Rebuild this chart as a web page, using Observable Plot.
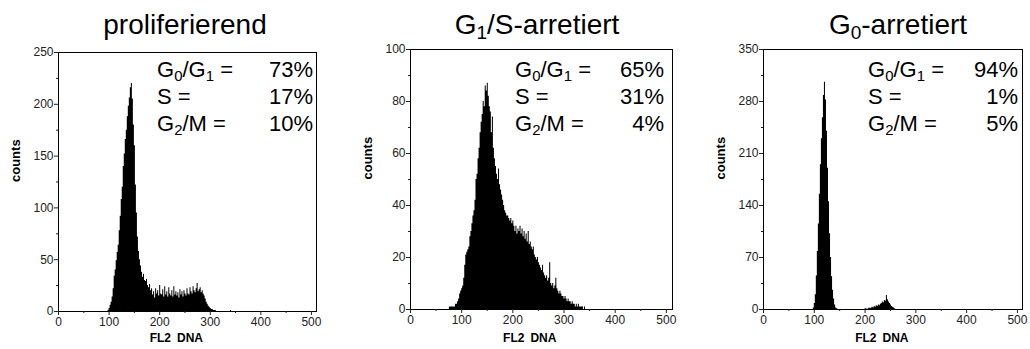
<!DOCTYPE html>
<html>
<head>
<meta charset="utf-8">
<script src="https://cdn.jsdelivr.net/npm/d3@7"></script>
<script src="https://cdn.jsdelivr.net/npm/@observablehq/plot@0.6"></script>
<style>
  html, body { margin: 0; padding: 0; background: #fff; }
  #root { position: relative; width: 1030px; height: 349px; overflow: hidden; font-family: "Liberation Sans", Arial, sans-serif; }
  .panel { position: absolute; top: 0; }
  .title { position: absolute; top: 11px; font-size: 28px; line-height: 28px; white-space: nowrap; transform: translateX(-50%); color: #000; }
  .ann { position: absolute; top: 56px; font-size: 22px; line-height: 27px; color: #000; display: grid; grid-template-columns: auto auto; }
  .ann .v { text-align: right; }
  sub { font-size: 0.68em; vertical-align: -0.28em; line-height: 0; }
</style>
</head>
<body>
<div id="root"></div>
<script>
// ---------------- data ----------------
const binWidth = 2;

const titles = ["proliferierend", "G<sub>1</sub>/S-arretiert", "G<sub>0</sub>-arretiert"];
const phaseLabels = ["G<sub>0</sub>/G<sub>1</sub> =", "S =", "G<sub>2</sub>/M ="];
const prolifPercents = ["73%", "17%", "10%"];
const g1sPercents = ["65%", "31%", "4%"];
const g0Percents = ["94%", "1%", "5%"];

const xTicks = [0, 100, 200, 300, 400, 500];
const xMinorTicks = [50, 150, 250, 350, 450];
const prolifYTicks = [0, 50, 100, 150, 200, 250];
const g1sYTicks = [0, 20, 40, 60, 80, 100];
const g0YTicks = [0, 70, 140, 210, 280, 350];

// proliferating: counts per 2-channel bin, starting at channel 96
const prolifStart = 96;
const prolifCounts = [
  0, 1, 3, 6, 9, 14, 22, 34, 40, 49, 57, 64, 78, 92, 108, 120, 140, 152, 166, 175,
  188, 198, 206, 216, 220, 205, 180, 160, 122, 95, 72, 58, 50, 44, 38, 33, 36, 30, 29, 31,
  25, 23, 26, 20, 22, 16, 19, 13, 22, 17, 20, 15, 25, 17, 16, 21, 14, 24, 16, 19,
  14, 23, 17, 15, 20, 14, 24, 16, 19, 15, 18, 13, 21, 16, 19, 14, 20, 17, 15, 22,
  17, 16, 23, 19, 17, 24, 20, 18, 22, 27, 19, 21, 23, 18, 20, 17, 15, 12, 9, 7,
  5, 4, 3, 2, 2, 1, 1, 1, 0, 0, 0, 0, 0, 0, 0, 0, 0, 0, 0, 0, 0, 0, 1
];

// G1/S arrested: counts per 2-channel bin, starting at channel 76
const g1sStart = 76;
const g1sCounts = [
  1, 1, 1, 1, 1, 1, 2, 2, 3, 4, 6, 7, 8, 9, 12, 17, 21, 22, 23, 24,
  28, 30, 33, 36, 38, 42, 50, 52, 58, 62, 68, 72, 75, 80, 78, 86, 84, 87, 82, 78,
  76, 68, 74, 62, 58, 55, 52, 50, 54, 48, 46, 44, 42, 40, 38, 37, 36, 36, 35, 34,
  35, 33, 34, 32, 30, 32, 29, 31, 30, 32, 29, 31, 28, 30, 27, 29, 26, 30, 25, 26,
  24, 23, 24, 21, 20, 19, 20, 18, 17, 16, 15, 17, 14, 13, 12, 13, 11, 12, 18, 10,
  9, 10, 8, 9, 12, 8, 7, 6, 7, 6, 5, 5, 4, 5, 4, 3, 4, 3, 3, 2,
  3, 2, 2, 1, 2, 1, 2, 1, 1, 1, 1, 0, 1, 0
];

// G0 arrested: counts per 2-channel bin, starting at channel 96
const g0Start = 96;
const g0Counts = [
  0, 2, 8, 20, 45, 78, 115, 155, 195, 230, 258, 288, 306, 282, 240, 190, 145, 102, 70, 44,
  26, 14, 6, 2, 1, 0, 0, 0, 0, 0, 0, 0, 0, 0, 0, 0, 0, 0, 0, 0,
  0, 0, 0, 0, 0, 0, 0, 0, 0, 0, 0, 0, 1, 1, 0, 1, 2, 1, 2, 3,
  2, 4, 3, 5, 4, 6, 5, 7, 8, 10, 9, 12, 11, 19, 13, 10, 8, 6, 4, 3,
  2, 1, 0
];

// ---------------- drawing ----------------
function toSteps(start, counts) {
  const pts = counts.map((c, i) => ({x: start + i * binWidth, count: c}));
  pts.push({x: start + counts.length * binWidth, count: 0});
  return pts;
}

const panels = [
  {left: 0, width: 340, ml: 58, mr: 24, mt: 52, mb: 38, xMax: 510, yTicks: prolifYTicks,
   steps: toSteps(prolifStart, prolifCounts), title: titles[0], titleX: 185, labelDy: 27,
   percents: prolifPercents, annLeft: 157, annRight: 313},
  {left: 340, width: 345, ml: 70, mr: 13, mt: 49, mb: 40, xMax: 512, yTicks: g1sYTicks,
   steps: toSteps(g1sStart, g1sCounts), title: titles[1], titleX: 537, labelDy: 29,
   percents: g1sPercents, annLeft: 515, annRight: 664},
  {left: 685, width: 345, ml: 78, mr: 8, mt: 49, mb: 40, xMax: 510, yTicks: g0YTicks,
   steps: toSteps(g0Start, g0Counts), title: titles[2], titleX: 898, labelDy: 29,
   percents: g0Percents, annLeft: 868, annRight: 1018}
];

const root = document.getElementById("root");
const tickFont = '"Liberation Sans Narrow", "Arial Narrow", "Liberation Sans", Arial, sans-serif';
const labelFont = '"Liberation Sans", Arial, sans-serif';

panels.forEach((p) => {
  const yMax = p.yTicks[p.yTicks.length - 1];
  const step = p.yTicks[1] - p.yTicks[0];
  const yMinor = p.yTicks.slice(0, -1).map((t) => t + step / 2);

  const chart = Plot.plot({
    width: p.width,
    height: 349,
    marginLeft: p.ml,
    marginRight: p.mr,
    marginTop: p.mt,
    marginBottom: p.mb,
    x: {domain: [0, p.xMax]},
    y: {domain: [0, yMax]},
    style: {fontFamily: tickFont, fontSize: "12px", color: "#222", background: "transparent", overflow: "visible"},
    marks: [
      Plot.areaY(p.steps, {x: "x", y: "count", curve: "step-after", fill: "#000"}),
      Plot.frame({stroke: "#000", strokeWidth: 1}),
      Plot.axisX({ticks: xTicks, tickSize: 4, tickPadding: 2, label: null, fill: "#222"}),
      Plot.axisX({ticks: xMinorTicks, tickSize: 2, tickFormat: () => "", label: null}),
      Plot.axisY({ticks: p.yTicks, tickSize: 4, tickPadding: 1, label: null, fill: "#222"}),
      Plot.axisY({ticks: yMinor, tickSize: 2, tickFormat: () => "", label: null}),
      Plot.text(["counts"], {frameAnchor: "left", dx: -43, rotate: -90, fontWeight: "bold",
        fontSize: 13, fontFamily: labelFont, fill: "#000"}),
      Plot.text(["FL2\u2002DNA"], {x: 233, frameAnchor: "bottom", dy: p.labelDy, lineAnchor: "middle",
        fontWeight: "bold", fontSize: 12, fontFamily: labelFont, fill: "#000"})
    ]
  });
  chart.classList.add("panel");
  chart.style.left = p.left + "px";
  root.appendChild(chart);

  const t = document.createElement("div");
  t.className = "title";
  t.style.left = p.titleX + "px";
  t.innerHTML = p.title;
  root.appendChild(t);

  const ann = document.createElement("div");
  ann.className = "ann";
  ann.style.left = p.annLeft + "px";
  ann.style.width = (p.annRight - p.annLeft) + "px";
  phaseLabels.forEach((lab, i) => {
    const a = document.createElement("div");
    a.innerHTML = lab;
    const b = document.createElement("div");
    b.className = "v";
    b.textContent = p.percents[i];
    ann.appendChild(a);
    ann.appendChild(b);
  });
  root.appendChild(ann);
});
</script>
</body>
</html>
